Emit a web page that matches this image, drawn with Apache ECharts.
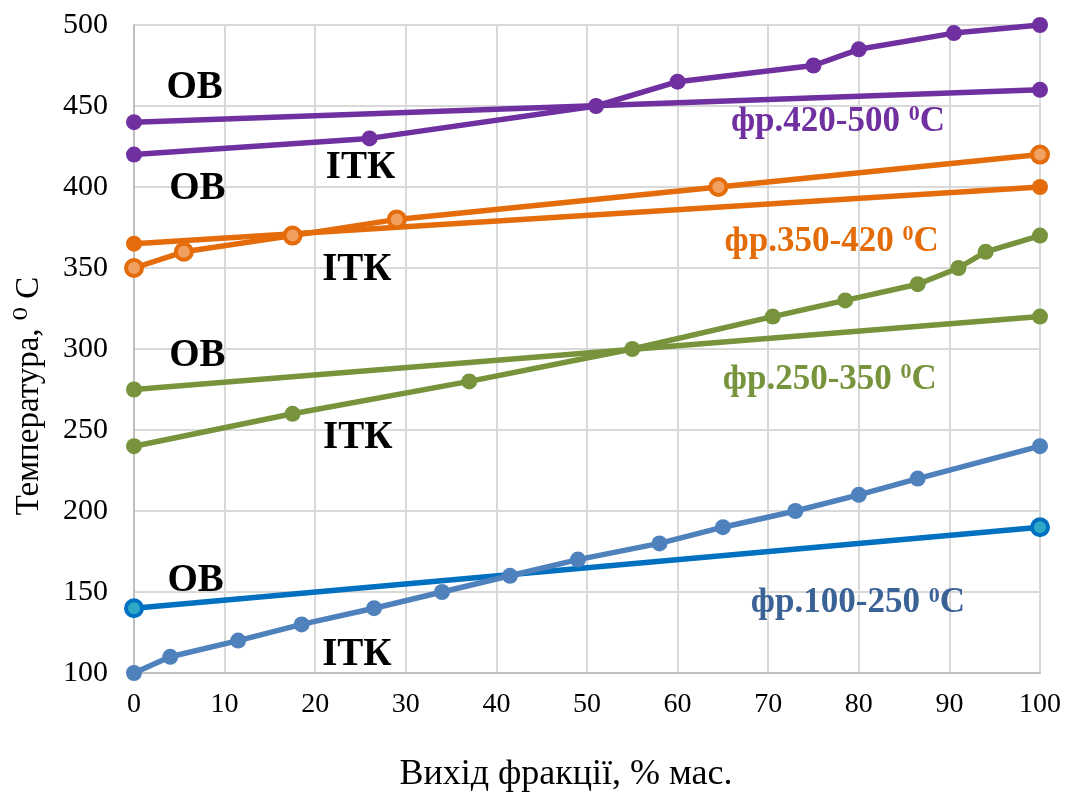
<!DOCTYPE html>
<html><head><meta charset="utf-8">
<script src="https://cdn.jsdelivr.net/npm/echarts@6/dist/echarts.min.js"></script>
<style>html,body{margin:0;padding:0;background:#fff}#c{width:1067px;height:798px}</style>
</head><body><div id="c"></div>
<script>
// Data (x = вихід фракції, % мас.; y = температура, °C)
const purpleOB  = [[0,440],[100,460]];
const purpleITK = [[0,420],[26,430],[51,450],[60,465],[75,475],[80,485],[90.5,495],[100,500]];
const orangeOB  = [[0,365],[100,400]];
const orangeITK = [[0,350],[5.5,360],[17.5,370],[29,380],[64.5,400],[100,420]];
const greenOB   = [[0,275],[100,320]];
const greenITK  = [[0,240],[17.5,260],[37,280],[55,300],[70.5,320],[78.5,330],[86.5,340],[91,350],[94,360],[100,370]];
const blueOB    = [[0,140],[100,190]];
const blueITK   = [[0,100],[4,110],[11.5,120],[18.5,130],[26.5,140],[34,150],[41.5,160],[49,170],[58,180],[65,190],[73,200],[80,210],[86.5,220],[100,240]];
const xTicks = [0,10,20,30,40,50,60,70,80,90,100];
const yTicks = [100,150,200,250,300,350,400,450,500];
// Annotations: [x, y, text]
const blackLabels = [[6.7,461,'ОВ'],[25,412,'ІТК'],[7,399,'ОВ'],[24.6,349,'ІТК'],[7,296,'ОВ'],[24.7,245,'ІТК'],[6.8,157,'ОВ'],[24.6,111,'ІТК']];
const fracLabels = [[77.7,440,'фр.420-500 ','#7030A0'],[77,366,'фр.350-420 ','#E36C09'],[76.8,281,'фр.250-350 ','#77933C'],[79.9,143,'фр.100-250 ','#3B6297']];

const FONT = '"Liberation Serif","DejaVu Serif",serif';
function line(data, color, inner, lw){
  return {type:'line', data, symbol:'circle', symbolSize:16, showSymbol:true,
    lineStyle:{color, width:lw||5.5}, itemStyle:{color: inner||color, borderColor:color, borderWidth: inner?4:0},
    emphasis:{disabled:true}, z:3};
}
const series = [
  line(blueOB,'#0070C0','#2FA8C8',5.5),
  line(blueITK,'#4F81BD'),
  line(greenOB,'#77933C'),
  line(greenITK,'#77933C'),
  line(orangeOB,'#E46C0A'),
  line(orangeITK,'#E46C0A','#F2A060'),
  line(purpleOB,'#7030A0'),
  line(purpleITK,'#7030A0'),
  {type:'scatter', symbolSize:0, silent:true, z:5, itemStyle:{opacity:1},
   data: blackLabels.map(d=>({value:[d[0],d[1]], label:{formatter:d[2]}})),
   label:{show:true, position:'inside', color:'#000', fontFamily:FONT, fontWeight:'bold', fontSize:39}},
  {type:'scatter', symbolSize:0, silent:true, z:5, itemStyle:{opacity:1},
   data: fracLabels.map(d=>({value:[d[0],d[1]], label:{formatter:'{a|'+d[2]+'}{s|0}{a|C}', rich:{a:{color:d[3],fontFamily:FONT,fontWeight:'bold',fontSize:35},s:{color:d[3],fontFamily:FONT,fontWeight:'bold',fontSize:22,verticalAlign:'top',padding:[0,0,15,0]}}}})),
   label:{show:true, position:'inside'}}
];
const chart = echarts.init(document.getElementById('c'));
chart.setOption({
  animation:false,
  grid:{left:134, right:27, top:25, bottom:125},
  xAxis:{type:'value', min:0, max:100, interval:10,
    name:'Вихід фракції, % мас.', nameLocation:'middle', nameGap:84,
    nameTextStyle:{fontFamily:FONT, fontSize:36, color:'#000', padding:[0,42,0,0]},
    axisLine:{lineStyle:{color:'#bfbfbf', width:2}}, axisTick:{show:false},
    axisLabel:{fontFamily:FONT, fontSize:28, color:'#000', margin:18, formatter:v=>xTicks.includes(v)?String(v):''},
    splitLine:{lineStyle:{color:'#d9d9d9', width:2}}},
  yAxis:{type:'value', min:100, max:500, interval:50,
    name:'Температура, ⁰ С', nameLocation:'middle', nameGap:88,
    nameTextStyle:{fontFamily:FONT, fontSize:33, color:'#000', padding:[0,94,0,0]},
    axisLine:{show:true, lineStyle:{color:'#bfbfbf', width:2}}, axisTick:{show:false},
    axisLabel:{fontFamily:FONT, fontSize:30, color:'#000', margin:26, formatter:v=>yTicks.includes(v)?String(v):''},
    splitLine:{lineStyle:{color:'#d9d9d9', width:2}}},
  series
});
</script></body></html>
